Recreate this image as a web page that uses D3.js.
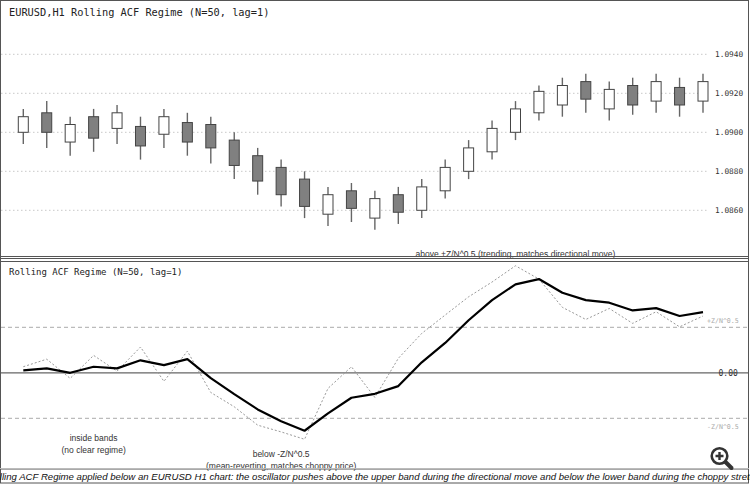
<!DOCTYPE html>
<html>
<head>
<meta charset="utf-8">
<script src="https://cdn.jsdelivr.net/npm/d3@7"></script>
<style>
  html, body { margin: 0; padding: 0; background: #fff; }
  svg { display: block; }
</style>
</head>
<body>
<script>
// ---------- DATA ----------
const categories = d3.range(1, 31); // 30 hourly bars
const openP  = [1.0900,1.0910,1.0895,1.0908,1.0902,1.0903,1.0899,1.0905,1.0904,1.0896,1.0888,1.0882,1.0876,1.0858,1.0870,1.0856,1.0868,1.0860,1.0870,1.0880,1.0890,1.0900,1.0910,1.0914,1.0926,1.0912,1.0924,1.0916,1.0923,1.0916];
const highP  = [1.0912,1.0916,1.0908,1.0912,1.0914,1.0908,1.0912,1.0910,1.0908,1.0900,1.0892,1.0886,1.0880,1.0872,1.0874,1.0870,1.0872,1.0876,1.0886,1.0896,1.0906,1.0916,1.0924,1.0928,1.0930,1.0926,1.0928,1.0930,1.0928,1.0930];
const lowP   = [1.0894,1.0892,1.0888,1.0890,1.0894,1.0886,1.0892,1.0888,1.0884,1.0876,1.0868,1.0862,1.0856,1.0852,1.0854,1.0850,1.0853,1.0856,1.0866,1.0876,1.0886,1.0896,1.0906,1.0908,1.0910,1.0906,1.0909,1.0910,1.0908,1.0910];
const closeP = [1.0908,1.0900,1.0904,1.0897,1.0910,1.0893,1.0908,1.0895,1.0892,1.0883,1.0875,1.0868,1.0862,1.0868,1.0861,1.0866,1.0859,1.0872,1.0882,1.0892,1.0902,1.0912,1.0921,1.0924,1.0917,1.0922,1.0914,1.0926,1.0914,1.0926];
const acfSmooth = [0.015,0.027,0.000,0.037,0.027,0.076,0.047,0.083,-0.032,-0.130,-0.223,-0.295,-0.353,-0.247,-0.152,-0.128,-0.081,0.064,0.182,0.320,0.443,0.539,0.571,0.488,0.443,0.427,0.380,0.394,0.346,0.370];
const acfRaw    = [0.037,0.083,-0.034,0.106,0.010,0.157,-0.052,0.132,-0.120,-0.207,-0.319,-0.360,-0.405,-0.095,0.037,-0.150,0.088,0.240,0.352,0.463,0.553,0.652,0.571,0.399,0.325,0.392,0.301,0.372,0.280,0.346];
const priceTicks = [1.0860, 1.0880, 1.0900, 1.0920, 1.0940];
const Zcrit = 1.96, Nwin = 50;
const band = Zcrit / Math.sqrt(Nwin);
const titleTop = "EURUSD,H1 Rolling ACF Regime (N=50, lag=1)";
const titleBottom = "Rolling ACF Regime (N=50, lag=1)";
const notes = [
  { bar: 22, lines: ["above +Z/N^0.5 (trending, matches directional move)"], y: 257 },
  { bar: 4,  lines: ["inside bands", "(no clear regime)"], y: 441 },
  { bar: 12, lines: ["below -Z/N^0.5", "(mean-reverting, matches choppy price)"], y: 457 }
];
const caption = "Rolling ACF Regime applied below an EURUSD H1 chart: the oscillator pushes above the upper band during the directional move and below the lower band during the choppy stretch.";

// ---------- LAYOUT ----------
const W = 750, H = 484;
const svg = d3.select("body").append("svg").attr("width", W).attr("height", H);
svg.append("rect").attr("width", W).attr("height", H).attr("fill", "#fff");

const x = d3.scaleLinear().domain([1, 30]).range([23.3, 703]);
const yP = d3.scaleLinear().domain([1.0860, 1.0940]).range([210.3, 54.3]);
const yA = d3.scaleLinear().domain([-band, band]).range([418.3, 327.3]);

const mono = "'DejaVu Sans Mono', monospace";
const sans = "'Liberation Sans', Arial, sans-serif";

// ---------- TOP PANEL ----------
const topG = svg.append("g");
topG.selectAll("line.grid").data(priceTicks).join("line")
  .attr("x1", 1).attr("x2", 708)
  .attr("y1", d => yP(d)).attr("y2", d => yP(d))
  .attr("stroke", "#c8c8c8").attr("stroke-width", 1)
  .attr("stroke-dasharray", "1.5,2.5");
topG.selectAll("text.ptick").data(priceTicks).join("text")
  .attr("x", 715).attr("y", d => yP(d)).attr("dy", "0.35em")
  .attr("font-family", mono).attr("font-size", 7.8).attr("fill", "#333")
  .text(d => d.toFixed(4));

const candles = categories.map((c, i) => ({ c, o: openP[i], h: highP[i], l: lowP[i], cl: closeP[i] }));
const cg = topG.selectAll("g.candle").data(candles).join("g");
cg.append("line")
  .attr("x1", d => x(d.c)).attr("x2", d => x(d.c))
  .attr("y1", d => yP(d.h)).attr("y2", d => yP(d.l))
  .attr("stroke", "#666").attr("stroke-width", 1.4);
cg.append("rect")
  .attr("x", d => x(d.c) - 5).attr("width", 10)
  .attr("y", d => yP(Math.max(d.o, d.cl)))
  .attr("height", d => Math.max(1, Math.abs(yP(d.o) - yP(d.cl))))
  .attr("fill", d => d.cl >= d.o ? "#ffffff" : "#808080")
  .attr("stroke", "#444").attr("stroke-width", 1);

topG.append("text").attr("x", 9).attr("y", 15.5)
  .attr("font-family", mono).attr("font-size", 10.3).attr("fill", "#222")
  .text(titleTop);

// ---------- BOTTOM PANEL ----------
const botG = svg.append("g");
[band, -band].forEach(v => {
  botG.append("line").attr("x1", 1).attr("x2", 748)
    .attr("y1", yA(v)).attr("y2", yA(v))
    .attr("stroke", "#aaa").attr("stroke-width", 1).attr("stroke-dasharray", "4,3");
});
botG.append("line").attr("x1", 1).attr("x2", 748)
  .attr("y1", yA(0)).attr("y2", yA(0))
  .attr("stroke", "#666").attr("stroke-width", 1.2);
botG.append("text").attr("x", 707).attr("y", yA(band) - 4)
  .attr("font-family", mono).attr("font-size", 6.6).attr("fill", "#aaa").text("+Z/N^0.5");
botG.append("text").attr("x", 707).attr("y", yA(-band) + 10.5)
  .attr("font-family", mono).attr("font-size", 6.6).attr("fill", "#aaa").text("-Z/N^0.5");
botG.append("text").attr("x", 718.5).attr("y", yA(0)).attr("dy", "0.35em")
  .attr("font-family", mono).attr("font-size", 8).attr("fill", "#333").text((0).toFixed(2));

const lineGen = d3.line().x((d, i) => x(categories[i])).y(d => yA(d));
botG.append("path").datum(acfRaw).attr("d", lineGen)
  .attr("fill", "none").attr("stroke", "#999").attr("stroke-width", 1)
  .attr("stroke-dasharray", "2,2");
botG.append("path").datum(acfSmooth).attr("d", lineGen)
  .attr("fill", "none").attr("stroke", "#000").attr("stroke-width", 2.2)
  .attr("stroke-linejoin", "round");

botG.append("text").attr("x", 9).attr("y", 274.5)
  .attr("font-family", mono).attr("font-size", 9).attr("fill", "#222")
  .text(titleBottom);

// annotations
notes.forEach(n => {
  const t = svg.append("text").attr("x", x(n.bar)).attr("y", n.y)
    .attr("text-anchor", "middle").attr("font-family", sans)
    .attr("font-size", 8.5).attr("fill", "#333");
  n.lines.forEach((ln, k) => t.append("tspan").attr("x", x(n.bar)).attr("dy", k === 0 ? 0 : 11.7).text(ln));
});

// ---------- FRAMES ----------
const fr = "#555";
svg.append("rect").attr("x", 0.5).attr("y", 0.5).attr("width", 748).attr("height", 256)
  .attr("fill", "none").attr("stroke", fr);
svg.append("line").attr("x1", 0).attr("x2", 749).attr("y1", 258.5).attr("y2", 258.5).attr("stroke", fr);
svg.append("rect").attr("x", 0.5).attr("y", 261.5).attr("width", 748).attr("height", 207.5)
  .attr("fill", "none").attr("stroke", fr);
svg.append("rect").attr("x", 0.5).attr("y", 0.5).attr("width", 748).attr("height", 482.5)
  .attr("fill", "none").attr("stroke", fr);
svg.append("line").attr("x1", 0).attr("x2", 749).attr("y1", 468.5).attr("y2", 468.5).attr("stroke", "#bbb");

// caption (overflows both edges, as in the reference)
svg.append("text").attr("x", W / 2).attr("y", 479.5).attr("text-anchor", "middle")
  .attr("font-family", sans).attr("font-style", "italic").attr("font-size", 9.6).attr("fill", "#111")
  .text(caption);

// zoom icon
const zi = svg.append("g").attr("transform", "translate(719.5,456)");
zi.append("line").attr("x1", 6).attr("y1", 6).attr("x2", 12).attr("y2", 12)
  .attr("stroke", "#333").attr("stroke-width", 4).attr("stroke-linecap", "round");
zi.append("circle").attr("r", 7.8).attr("fill", "#fff").attr("stroke", "#333").attr("stroke-width", 2.6);
zi.append("path").attr("d", "M-4,0H4M0,-4V4").attr("stroke", "#333").attr("stroke-width", 2.4);
</script>
</body>
</html>
